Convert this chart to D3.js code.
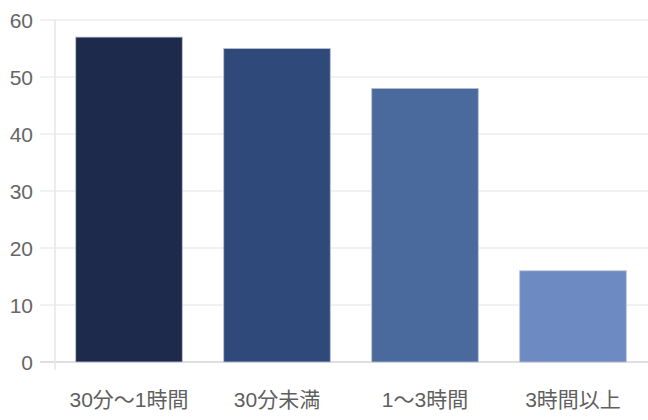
<!DOCTYPE html>
<html>
<head>
<meta charset="utf-8">
<script src="https://cdn.jsdelivr.net/npm/d3@7"></script>
<style>
  body { margin: 0; background: #fff; }
  text { font-family: "Liberation Sans", "Noto Sans CJK JP", sans-serif; }
</style>
</head>
<body>
<script>
// data
var categories = ['30分〜1時間', '30分未満', '1〜3時間', '3時間以上'];
var values = [57, 55, 48, 16];
var barColors = ['#1e2a4b', '#2f4a7a', '#4a6a9e', '#6d8bc2'];
var yTicks = [0, 10, 20, 30, 40, 50, 60];

var width = 648, height = 420;
var margin = { top: 20, right: 1, bottom: 58, left: 55 };

var svg = d3.select('body').append('svg').attr('width', width).attr('height', height);

var x = d3.scaleBand().domain(categories)
  .range([margin.left, width - margin.right])
  .paddingInner(0.28).paddingOuter(0.14);
var y = d3.scaleLinear().domain([0, 60]).range([height - margin.bottom, margin.top]);

// grid lines
svg.append('g').selectAll('line').data(yTicks).enter().append('line')
  .attr('x1', 40).attr('x2', width)
  .attr('y1', function(d) { return y(d); }).attr('y2', function(d) { return y(d); })
  .attr('stroke', function(d) { return d === 0 ? '#d4d4d8' : '#ececf0'; })
  .attr('stroke-width', 1.5);

// left axis line
svg.append('line')
  .attr('x1', margin.left).attr('x2', margin.left)
  .attr('y1', y(60)).attr('y2', y(0) + 8)
  .attr('stroke', '#e6e6e8').attr('stroke-width', 1.5);

// y labels
svg.append('g').selectAll('text').data(yTicks).enter().append('text')
  .attr('x', 33).attr('y', function(d) { return y(d); })
  .attr('dy', '0.36em').attr('text-anchor', 'end')
  .attr('font-size', 21).attr('fill', '#666')
  .text(function(d) { return d; });

// bars
svg.append('g').selectAll('rect').data(values).enter().append('rect')
  .attr('x', function(d, i) { return x(categories[i]); })
  .attr('y', function(d) { return y(d); })
  .attr('width', x.bandwidth())
  .attr('height', function(d) { return y(0) - y(d); })
  .attr('fill', function(d, i) { return barColors[i]; })
  .attr('stroke', '#b8c0d4').attr('stroke-width', 0.8);

// x labels
svg.append('g').selectAll('text').data(categories).enter().append('text')
  .attr('x', function(d) { return x(d) + x.bandwidth() / 2; })
  .attr('y', 407)
  .attr('text-anchor', 'middle')
  .attr('font-size', 21).attr('fill', '#5f5f5f')
  .text(function(d) { return d; });
</script>
</body>
</html>
